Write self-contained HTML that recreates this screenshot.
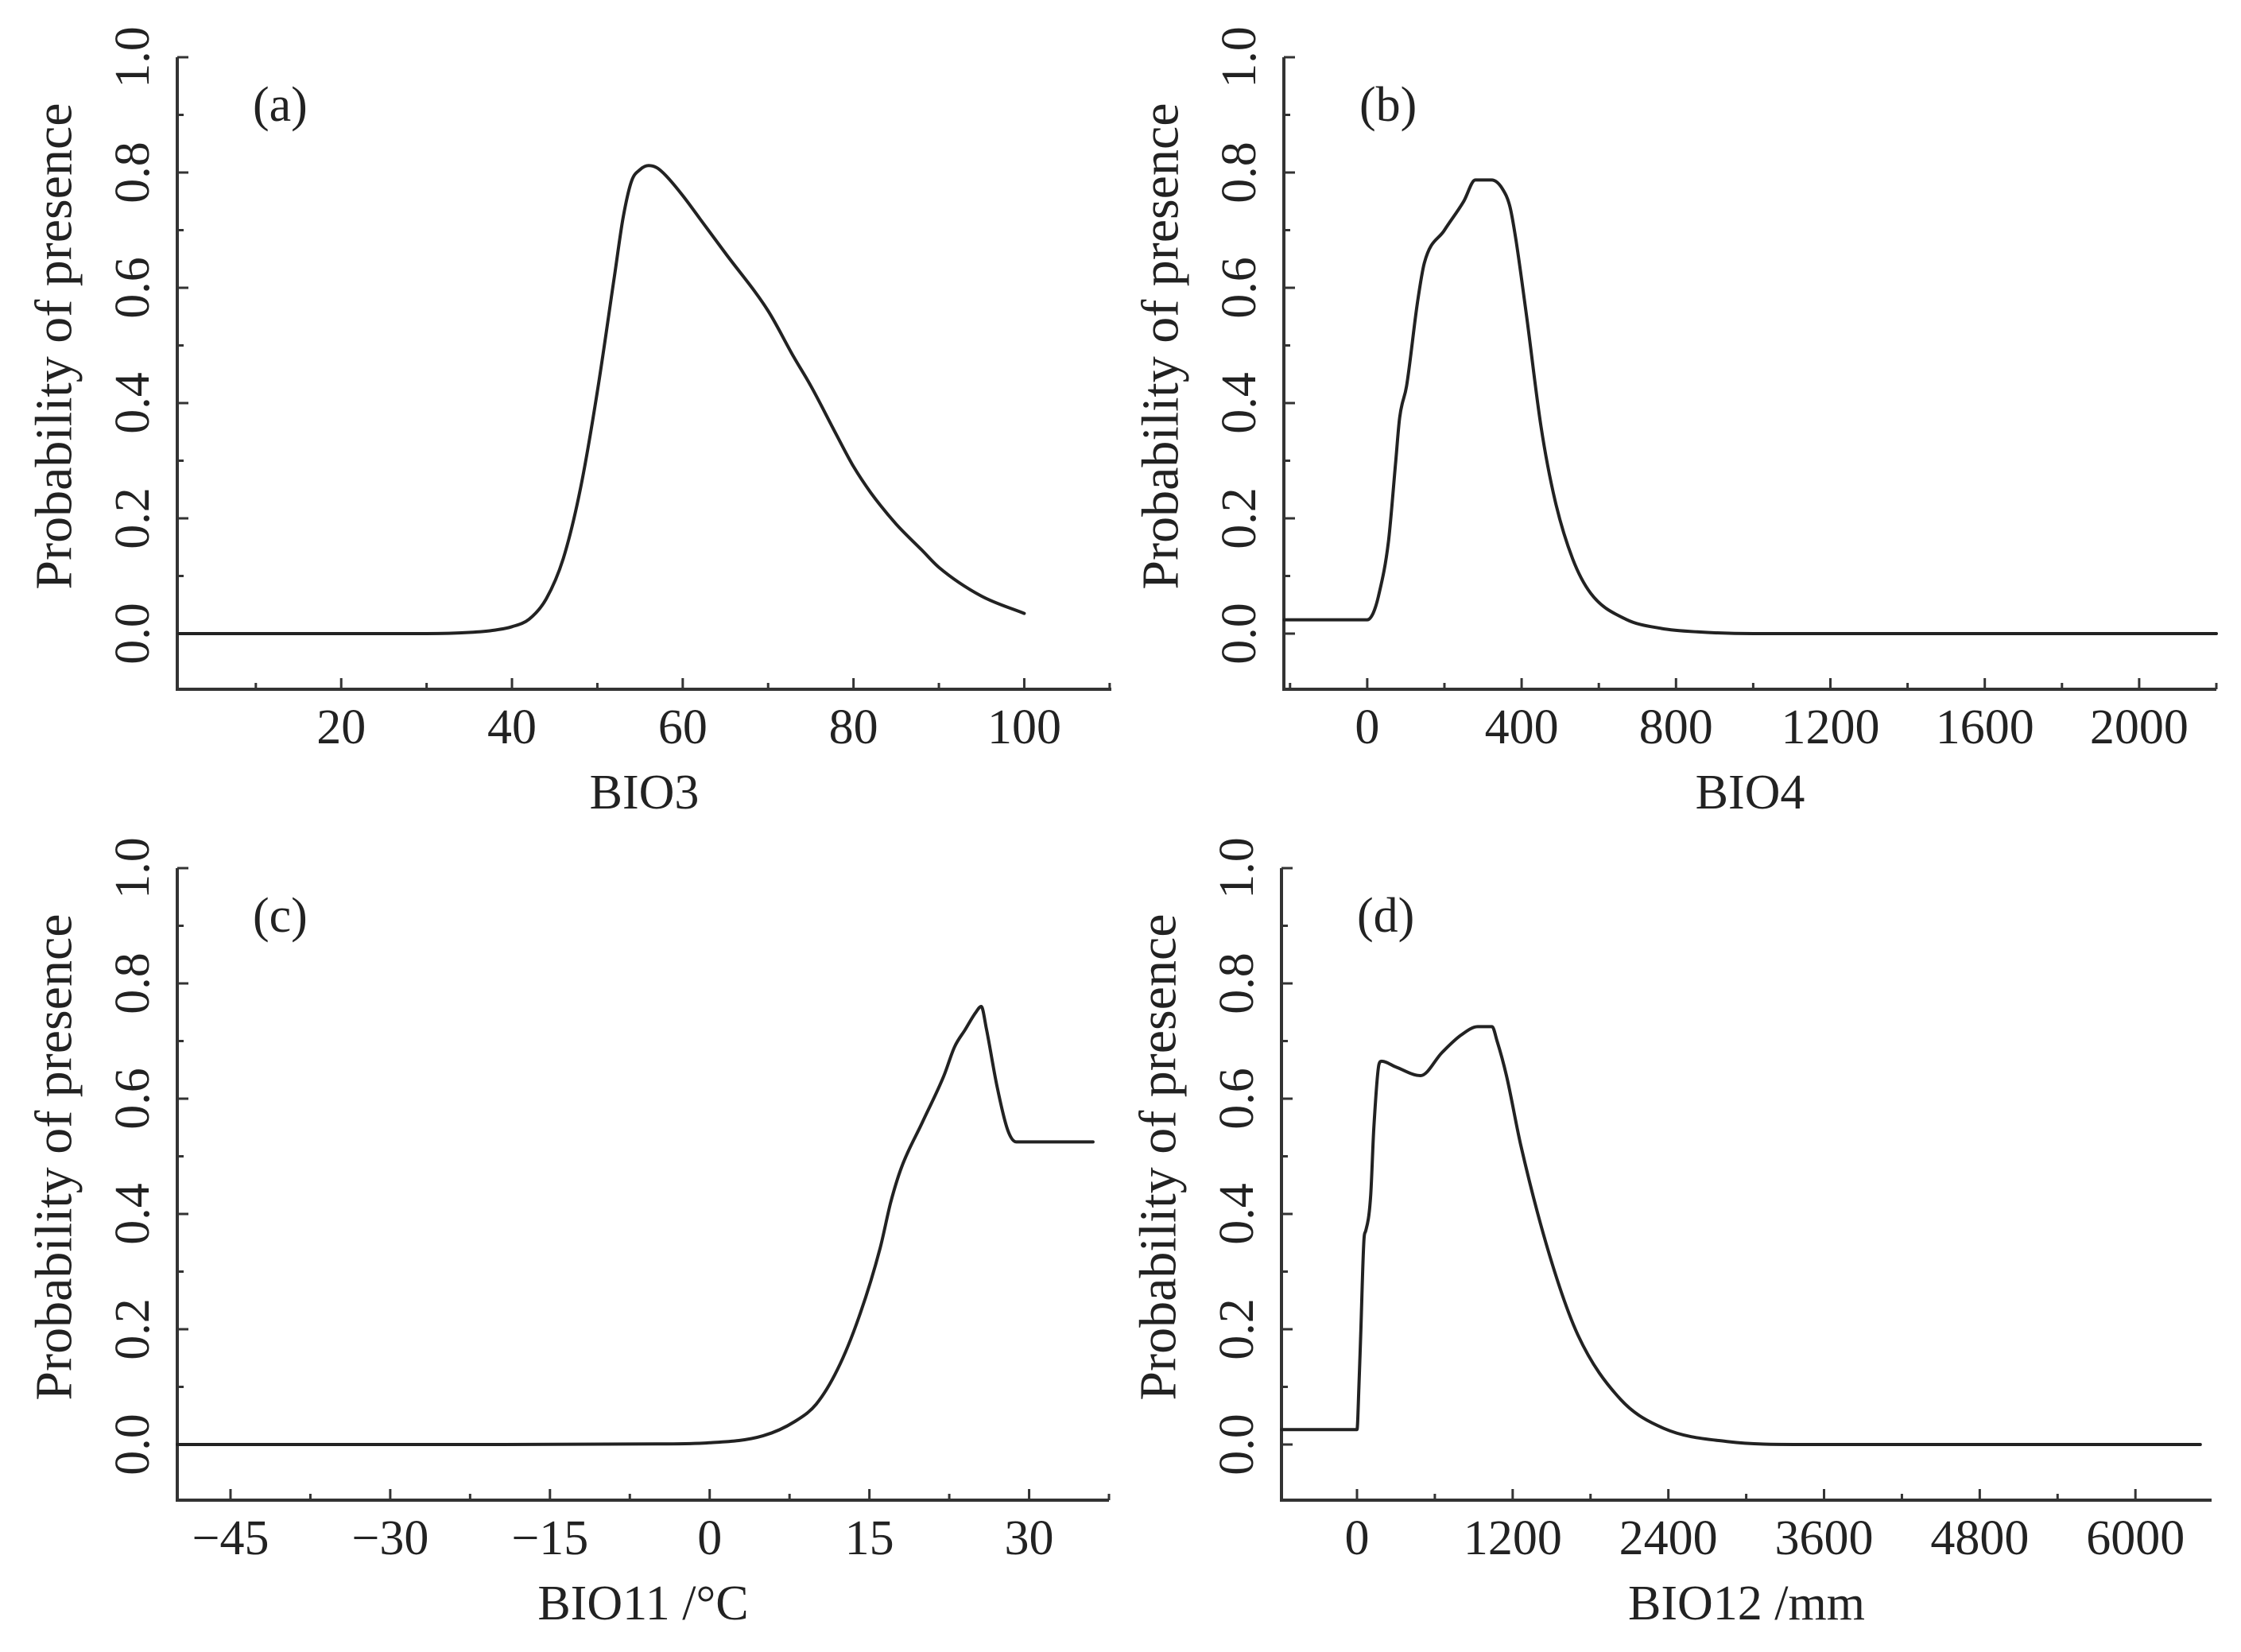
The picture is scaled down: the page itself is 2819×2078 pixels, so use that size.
<!DOCTYPE html>
<html><head><meta charset="utf-8"><style>
html,body{margin:0;padding:0;background:#fff;}
svg{display:block;font-family:"Liberation Serif",serif;}
</style></head><body>
<svg id="fig" width="2819" height="2078" viewBox="0 0 2819 2078" xmlns="http://www.w3.org/2000/svg"></svg>
<script>
// Panel (a) BIO3
const aX=[1,10,20,30,35,38,40,42,44,46,48,50,52,53,54,55,56,57,58,60,62,65,70,73,75,78,80,82,85,88,90,95,100];
const aY=[0,0,0,0,0.002,0.006,0.012,0.025,0.06,0.13,0.25,0.42,0.62,0.72,0.785,0.805,0.812,0.808,0.795,0.76,0.72,0.66,0.56,0.48,0.43,0.345,0.29,0.245,0.19,0.145,0.115,0.065,0.035];
const aTicks=[20,40,60,80,100];
const aTickLabels=["20","40","60","80","100"];
// Panel (b) BIO4
const bX=[-215,0,15,29,55,74,84,102,130,148,200,250,280,322,350,370,386,413,450,487,532,579,670,762,855,1000,1500,2200];
const bY=[0.024,0.024,0.035,0.065,0.16,0.30,0.375,0.43,0.574,0.643,0.70,0.75,0.787,0.787,0.772,0.74,0.68,0.55,0.36,0.23,0.13,0.07,0.025,0.009,0.003,0,0,0];
const bTicks=[0,400,800,1200,1600,2000];
const bTickLabels=["0","400","800","1200","1600","2000"];
// Panel (c) BIO11
const cX=[-50,-20,-5,0,5,8,10,12,14,16,17,18,20,22,23,24,25,25.5,26,27,28,28.8,36];
const cY=[0,0,0.001,0.003,0.015,0.04,0.07,0.13,0.22,0.34,0.42,0.48,0.56,0.64,0.69,0.72,0.75,0.76,0.72,0.62,0.545,0.525,0.525];
const cTicks=[-45,-30,-15,0,15,30];
const cTickLabels=["\u221245","\u221230","\u221215","0","15","30"];
// Panel (d) BIO12
const dX=[-580,0,15,30,55,66,105,130,170,190,300,490,655,800,931,1041,1080,1152,1262,1482,1703,2033,2364,2860,3411,4500,6500];
const dY=[0.026,0.026,0.10,0.20,0.36,0.37,0.43,0.55,0.66,0.665,0.655,0.64,0.68,0.71,0.725,0.725,0.70,0.64,0.52,0.33,0.19,0.078,0.028,0.005,0,0,0];
const dTicks=[0,1200,2400,3600,4800,6000];
const dTickLabels=["0","1200","2400","3600","4800","6000"];
const yTicks=[0,0.2,0.4,0.6,0.8,1.0];
const yTickLabels=["0.0","0.2","0.4","0.6","0.8","1.0"];

const NS="http://www.w3.org/2000/svg";
const svg=document.getElementById('fig');
function mk(tag,attrs,parent){const e=document.createElementNS(NS,tag);for(const k in attrs)e.setAttribute(k,attrs[k]);(parent||svg).appendChild(e);return e;}

const panels=[
 {id:'a',label:'(a)',title:'BIO3',ox:0,oy:0,left:223,right:1398,xmin:0.8,xmax:110.2,xs:aX,ys:aY,ticks:aTicks,tl:aTickLabels,minor:10},
 {id:'b',label:'(b)',title:'BIO4',ox:1392,oy:0,left:1615,right:2788,xmin:-216,xmax:2200,xs:bX,ys:bY,ticks:bTicks,tl:bTickLabels,minor:200},
 {id:'c',label:'(c)',title:'BIO11 /\u00B0C',ox:0,oy:1020,left:223,right:1395,xmin:-50,xmax:37.5,xs:cX,ys:cY,ticks:cTicks,tl:cTickLabels,minor:7.5},
 {id:'d',label:'(d)',title:'BIO12 /mm',ox:1392,oy:1020,left:1612,right:2782,xmin:-582,xmax:6587,xs:dX,ys:dY,ticks:dTicks,tl:dTickLabels,minor:600}
];

// monotone cubic (Fritsch-Carlson) path in pixel space
function monoPath(pts){
 const n=pts.length, dl=[], m=[];
 for(let i=0;i<n-1;i++) dl.push((pts[i+1][1]-pts[i][1])/(pts[i+1][0]-pts[i][0]));
 m[0]=dl[0]; m[n-1]=dl[n-2];
 for(let i=1;i<n-1;i++) m[i]=(dl[i-1]*dl[i]<=0)?0:(dl[i-1]+dl[i])/2;
 for(let i=0;i<n-1;i++){
  if(dl[i]===0){m[i]=0;m[i+1]=0;continue;}
  const a=m[i]/dl[i], b=m[i+1]/dl[i], s=a*a+b*b;
  if(s>9){const t=3/Math.sqrt(s);m[i]=t*a*dl[i];m[i+1]=t*b*dl[i];}
 }
 let d='M'+pts[0][0].toFixed(1)+','+pts[0][1].toFixed(1);
 for(let i=0;i<n-1;i++){
  const h=(pts[i+1][0]-pts[i][0])/3;
  d+='C'+(pts[i][0]+h).toFixed(1)+','+(pts[i][1]+m[i]*h).toFixed(1)+' '+(pts[i+1][0]-h).toFixed(1)+','+(pts[i+1][1]-m[i+1]*h).toFixed(1)+' '+pts[i+1][0].toFixed(1)+','+pts[i+1][1].toFixed(1);
 }
 return d;
}

panels.forEach(p=>{
 const g=mk('g',{});
 
 
 const top=72+p.oy, y0=797+p.oy, bottom=867+p.oy;
 const yS=v=>y0-(v)*(y0-top);
 const xS=v=>p.left+(v-p.xmin)/(p.xmax-p.xmin)*(p.right-p.left);
 const ya=mk('line',{x1:p.left,y1:top,x2:p.left,y2:bottom,stroke:'#333',"stroke-width":4},g);
 
 
 const xa=mk('line',{x1:p.left-2,y1:bottom,x2:p.right,y2:bottom,stroke:'#333',"stroke-width":4},g);
 
 
 for(let i=0;i<=10;i++){
  const v=i/10, y=yS(v), major=(i%2===0);
  mk('line',{x1:p.left,y1:y,x2:p.left+(major?14:8),y2:y,stroke:'#333',"stroke-width":3},g);
 }
 yTicks.forEach((v,i)=>{
  const t=mk('text',{x:0,y:0,transform:`translate(${p.left-56},${yS(v)}) rotate(-90)`,"text-anchor":"middle","dominant-baseline":"central","font-size":62,fill:'#222'},g);
  t.textContent=yTickLabels[i];
  
  
 });
 const start=Math.ceil(p.xmin/p.minor)*p.minor;
 for(let v=start; v<=p.xmax+1e-9; v+=p.minor){
  const x=xS(v);
  const major=p.ticks.some(t=>Math.abs(t-v)<1e-6);
  mk('line',{x1:x,y1:bottom,x2:x,y2:bottom-(major?14:8),stroke:'#333',"stroke-width":3},g);
 }
 p.ticks.forEach((v,i)=>{
  const t=mk('text',{x:xS(v),y:bottom+68,"text-anchor":"middle","font-size":62,fill:'#222'},g);
  t.textContent=p.tl[i];
  
  
 });
 const xt=mk('text',{x:(p.left+p.right)/2,y:bottom+150,"text-anchor":"middle","font-size":62,fill:'#222'},g);
 xt.textContent=p.title;
 
 
 const yt=mk('text',{x:0,y:0,transform:`translate(${p.left-155},${(top+bottom)/2-34}) rotate(-90)`,"text-anchor":"middle","dominant-baseline":"central","font-size":66,fill:'#222'},g);
 yt.textContent='Probability of presence';
 
 
 const pl=mk('text',{x:p.left+95,y:top+80,"font-size":62,fill:'#222'},g);
 pl.textContent=p.label;
 
 
 const pts=p.xs.map((v,i)=>[xS(v),yS(p.ys[i])]);
 const c=mk('path',{d:monoPath(pts),fill:'none',stroke:'#222',"stroke-width":4,"stroke-linejoin":"round","stroke-linecap":"round"},g);
 
 
});
</script>
</body></html>
